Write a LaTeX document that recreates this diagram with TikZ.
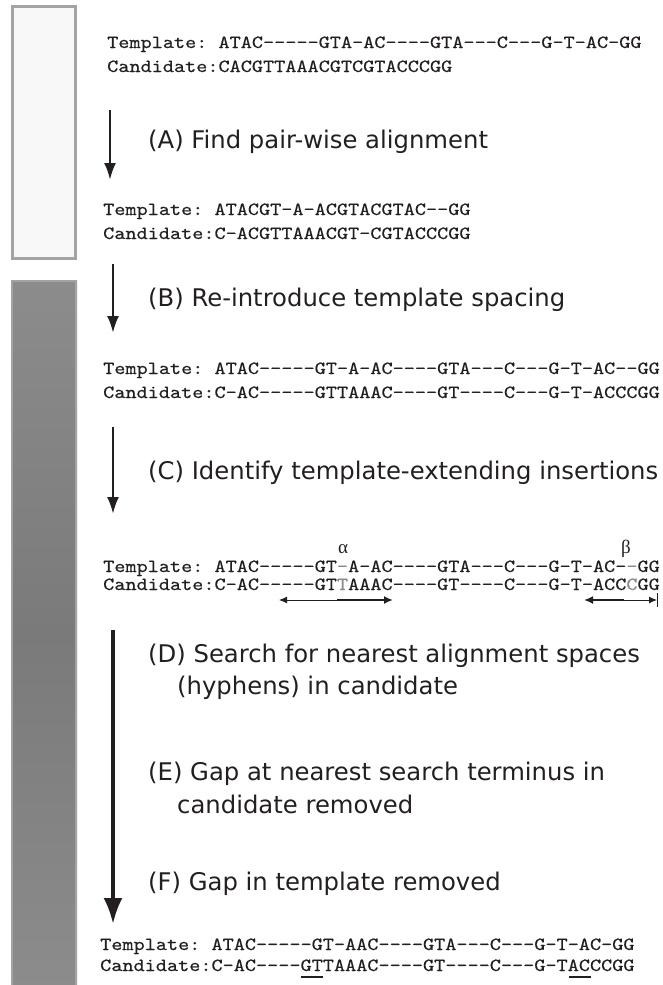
\documentclass[tikz,border=0pt]{standalone}
\usepackage{fontspec}
\setmainfont{DejaVu Sans}
\setmonofont{lmmono10-regular}[Extension=.otf, FakeStretch=1.14, FakeBold=0.4]
\newfontfamily\grkfont{Liberation Serif}
\usetikzlibrary{arrows.meta}
\definecolor{boxedge}{HTML}{A3A3A5}
\definecolor{boxfill}{HTML}{F8F8F8}
\definecolor{darkA}{HTML}{8C8C8C}
\definecolor{darkB}{HTML}{7A7A7A}
\definecolor{ink}{HTML}{231F20}
\definecolor{faint}{HTML}{8A8A8A}
\begin{document}
\begin{tikzpicture}[x=1pt,y=-1pt,
  seq/.style={anchor=base west, inner sep=0pt, text=ink, font=\ttfamily\fontsize{18.6}{20}\selectfont},
  lab/.style={anchor=base west, inner sep=0pt, text=ink, font=\fontsize{24.3}{29}\selectfont},
  greek/.style={anchor=base, inner sep=0pt, text=ink, font=\grkfont\fontsize{19}{22}\selectfont},
  steparrow/.style={draw=ink, line width=2.5pt, -{Latex[length=17pt,width=12pt]}},
  bigarrow/.style={draw=ink, line width=3.8pt, -{Latex[length=26pt,width=19pt]}},
  thinarr/.style={draw=ink, line width=1pt, -{Latex[length=8pt,width=7pt]}},
  thickarr/.style={draw=ink, line width=2.4pt, -{Latex[length=9pt,width=8pt]}},
  uline/.style={draw=ink, line width=1.3pt}
]
\clip (0,0) rectangle (662,985);
\useasboundingbox (0,0) rectangle (662,985);
\fill[white] (0,0) rectangle (662,985);

% side boxes
\draw[draw=boxedge, line width=3pt, fill=boxfill] (12.5,6.5) rectangle (75.5,258.5);
\shade[top color=darkA, bottom color=darkA, middle color=darkB] (11,280) rectangle (77,990);
\draw[draw=boxedge, line width=2pt] (12,281) rectangle (76,992);

% block 1
\node[seq] (t1) at (107,48) {Template: ATAC-----GTA-AC----GTA---C---G-T-AC-GG};
\node[seq] (c1) at (107,72) {Candidate:CACGTTAAACGTCGTACCCGG};

% step A
\coordinate (aS) at (110,110);
\coordinate (aE) at (110,180);
\draw[steparrow] (aS) -- (aE);
\node[lab] (la) at (148,148) {(A) Find pair-wise alignment};

% block 2
\node[seq] (t2) at (103,215) {Template: ATACGT-A-ACGTACGTAC--GG};
\node[seq] (c2) at (103,239) {Candidate:C-ACGTTAAACGT-CGTACCCGG};

% step B
\coordinate (bS) at (113,264);
\coordinate (bE) at (113,333);
\draw[steparrow] (bS) -- (bE);
\node[lab] (lb) at (148,306) {(B) Re-introduce template spacing};

% block 3
\node[seq] (t3) at (103,374) {Template: ATAC-----GT-A-AC----GTA---C---G-T-AC--GG};
\node[seq] (c3) at (103,398) {Candidate:C-AC-----GTTAAAC----GT----C---G-T-ACCCGG};

% step C
\coordinate (cS) at (113,427);
\coordinate (cE) at (113,514);
\draw[steparrow] (cS) -- (cE);
\node[lab] (lc) at (148,479) {(C) Identify template-extending insertions};

% block 4
\node[greek] (alpha) at (343,553) {α};
\node[greek] (beta) at (626,553) {β};
\node[seq] (t4) at (103,572) {Template: ATAC-----GT{\color{faint}-}A-AC----GTA---C---G-T-AC-{\color{faint}-}GG};
\node[seq] (c4) at (103,590) {Candidate:C-AC-----GT{\color{faint}T}AAAC----GT----C---G-T-ACC{\color{faint}C}GG};

\coordinate (aMid) at (337,600);
\coordinate (aLeft) at (279,600);
\coordinate (aRight) at (393,600);
\draw[thinarr] (aMid) -- (aLeft);
\draw[thickarr] (aMid) -- (aRight);

\coordinate (bMid) at (624,600);
\coordinate (bLeft) at (584,600);
\coordinate (bRight) at (657,600);
\draw[thickarr] (bMid) -- (bLeft);
\draw[thinarr] (bMid) -- (bRight);
\coordinate (barT) at (657.5,593);
\coordinate (barB) at (657.5,607);
\draw[draw=ink, line width=1pt] (barT) -- (barB);

% steps D-F
\coordinate (dS) at (113,630);
\coordinate (dE) at (113,924);
\draw[bigarrow] (dS) -- (dE);
\node[lab] (ld1) at (148,662) {(D) Search for nearest alignment spaces};
\node[lab] (ld2) at (177,694) {(hyphens) in candidate};
\node[lab] (le1) at (148,780) {(E) Gap at nearest search terminus in};
\node[lab] (le2) at (177,813) {candidate removed};
\node[lab] (lf) at (148,890) {(F) Gap in template removed};

% block 5
\node[seq] (t5) at (100,950) {Template: ATAC-----GT-AAC----GTA---C---G-T-AC-GG};
\node[seq] (c5) at (100,971) {Candidate:C-AC----GTTAAAC----GT----C---G-TACCCGG};
\coordinate (u1a) at (301,977);
\coordinate (u1b) at (323,977);
\coordinate (u2a) at (569,977);
\coordinate (u2b) at (591,977);
\draw[uline] (u1a) -- (u1b);
\draw[uline] (u2a) -- (u2b);
\end{tikzpicture}
\end{document}
